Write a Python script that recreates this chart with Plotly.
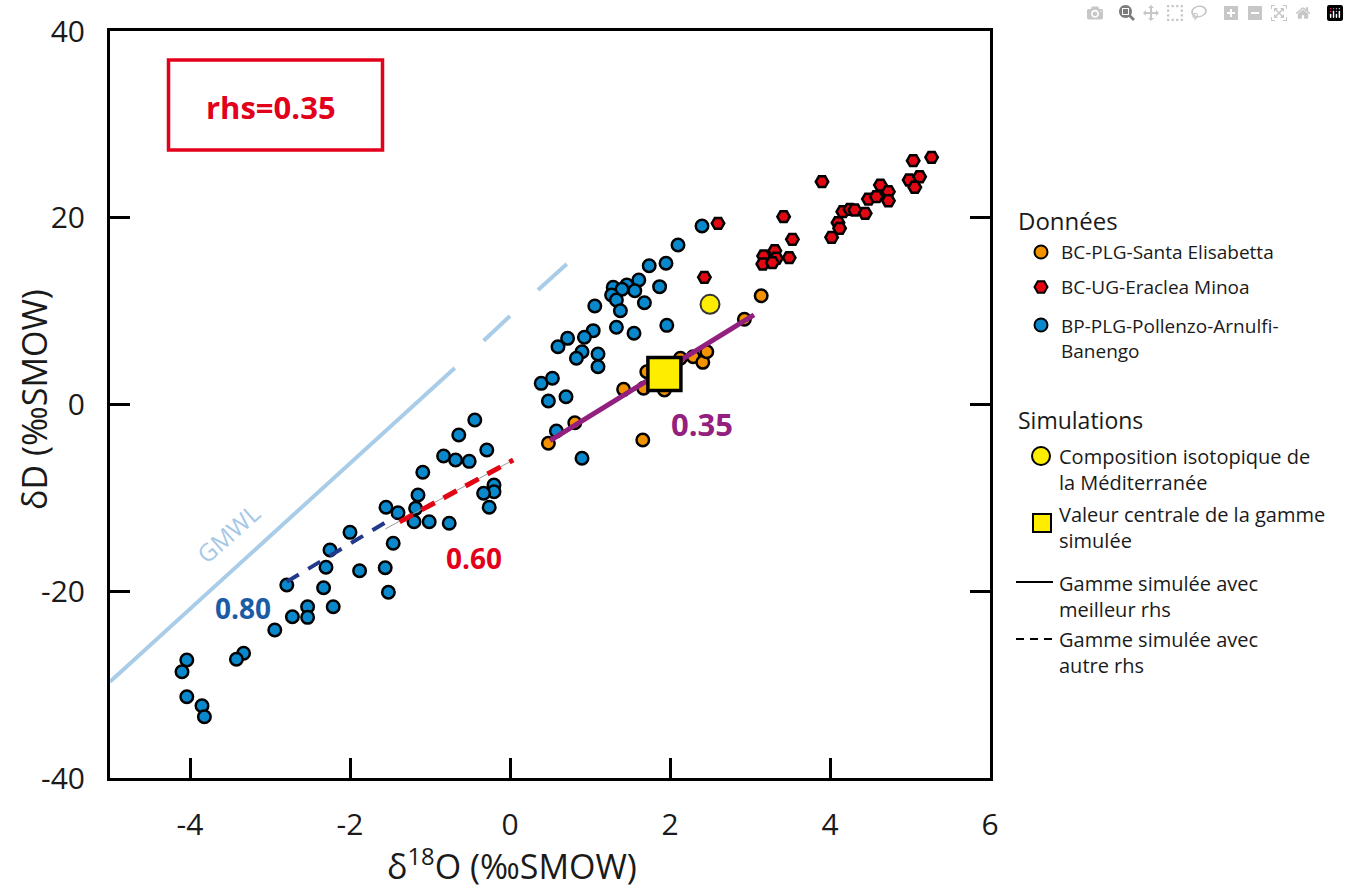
import plotly.graph_objects as go

# ---------------- data ----------------
blue_x = [-0.44, -0.64, -0.29, -0.83, -0.68, -0.51, -1.09, -0.20, -0.20, -0.33, -1.15, -0.26, -1.55, -1.18,
          -1.40, -1.20, -1.01, -0.76, -2.00, -1.46, -2.25, -2.30, -1.88, -1.56, -2.79, -2.33, -1.52, -2.53,
          -2.21, -2.72, -2.53, -2.94, -3.33, -3.42, -4.04, -4.10, -4.04, -3.85, -3.82,
          2.40, 2.10, 1.74, 1.95, 1.61, 1.46, 1.29, 1.40, 1.27, 1.56, 1.87, 1.33, 1.68, 1.06, 1.38, 1.33,
          1.96, 1.55, 1.04, 0.93, 0.72, 0.60, 0.90, 0.83, 1.10, 1.10, 0.39, 0.53, 0.48, 0.70, 0.58, 0.90]
blue_y = [-1.64, -3.25, -4.86, -5.50, -5.93, -6.07, -7.24, -8.60, -9.32, -9.49, -9.67, -10.99, -10.99, -11.10,
          -11.57, -12.53, -12.53, -12.70, -13.67, -14.84, -15.56, -17.41, -17.78, -17.46, -19.31, -19.60, -20.09,
          -21.63, -21.63, -22.70, -22.77, -24.13, -26.62, -27.26, -27.34, -28.59, -31.27, -32.23, -33.41,
          19.12, 17.09, 14.87, 15.13, 13.34, 12.81, 12.56, 12.35, 11.74, 12.20, 12.63, 11.20, 10.91, 10.56,
          10.06, 8.28, 8.49, 7.64, 7.92, 7.21, 7.10, 6.20, 5.67, 4.96, 5.42, 4.06, 2.28, 2.82, 0.39, 0.85,
          -2.82, -5.74]

orange_x = [0.48, 0.81, 1.66, 1.42, 1.67, 1.71, 1.93, 2.13, 2.29, 2.41, 2.46, 2.93, 3.14]
orange_y = [-4.14, -1.93, -3.79, 1.64, 1.75, 3.53, 1.57, 4.96, 5.13, 4.53, 5.67, 9.14, 11.66]

red_x = [2.60, 2.43, 3.42, 3.53, 3.31, 3.17, 3.33, 3.16, 3.28, 3.49, 3.90, 4.16, 4.25, 4.31, 4.44, 4.10,
         4.12, 4.02, 4.48, 4.58, 4.63, 4.73, 4.73, 5.04, 5.27, 4.99, 5.12, 5.06]
red_y = [19.41, 13.63, 20.12, 17.70, 16.48, 15.91, 15.67, 15.06, 15.20, 15.73, 23.87, 20.66, 20.91, 20.84,
         20.48, 19.48, 18.88, 17.91, 22.01, 22.26, 23.51, 22.80, 21.83, 26.12, 26.48, 24.05, 24.40, 23.27]

med_x = [2.50]          # Composition isotopique de la Méditerranée
med_y = [10.74]
center_x = [1.93]       # Valeur centrale de la gamme simulée
center_y = [3.28]

rhs035_x = [0.50, 3.05]
rhs035_y = [-3.86, 9.60]
rhs060_x = [-1.38, 0.04]
rhs060_y = [-12.55, -5.93]
rhs060_guide_x = [-1.56, 0.04]
rhs060_guide_y = [-13.31, -5.93]
rhs080_x = [-2.79, -1.44]
rhs080_y = [-18.96, -12.00]

gmwl_x = [-5.0, -0.69, None, -0.33, 0.00, None, 0.35, 0.71]
gmwl_y = [-29.66, 3.92, None, 6.84, 9.49, None, 12.27, 15.06]

x_tickvals = [-4, -2, 0, 2, 4, 6]
x_ticktext = ["-4", "-2", "0", "2", "4", "6"]
y_tickvals = [-40, -20, 0, 20, 40]
y_ticktext = ["-40", "-20", "0", "20", "40"]

# ---------------- styling ----------------
W, H = 1349, 888
FONT = "Open Sans, Noto Sans, sans-serif"
C_BLUE = "#0A88CC"
C_ORANGE = "#F39200"
C_RED = "#E30613"
C_YELLOW = "#FFED00"
C_PURPLE = "#93207F"
C_NAVY = "#223A8C"
C_LBL_BLUE = "#1B5CA6"
C_GMWL = "#A9CDE8"
C_TXT_RED = "#E2001A"

def fx(px):
    return px / W

def fy(py):
    return 1 - py / H

fig = go.Figure()

mk = dict(line=dict(color="black", width=2.5), size=12.5)

fig.add_trace(go.Scatter(x=gmwl_x, y=gmwl_y, mode="lines", line=dict(color=C_GMWL, width=4),
                         name="GMWL", showlegend=False, hoverinfo="skip"))
fig.add_trace(go.Scatter(x=blue_x, y=blue_y, mode="markers", name="BP-PLG-Pollenzo-Arnulfi-Banengo",
                         marker=dict(color=C_BLUE, symbol="circle", **mk), showlegend=False))
fig.add_trace(go.Scatter(x=orange_x, y=orange_y, mode="markers", name="BC-PLG-Santa Elisabetta",
                         marker=dict(color=C_ORANGE, symbol="circle", **mk), showlegend=False))
fig.add_trace(go.Scatter(x=red_x, y=red_y, mode="markers", name="BC-UG-Eraclea Minoa",
                         marker=dict(color=C_RED, symbol="hexagon2", **mk), showlegend=False))
fig.add_trace(go.Scatter(x=rhs060_guide_x, y=rhs060_guide_y, mode="lines",
                         line=dict(color="#9A9A9A", width=1), showlegend=False, hoverinfo="skip"))
fig.add_trace(go.Scatter(x=rhs060_x, y=rhs060_y, mode="lines", name="rhs 0.60",
                         line=dict(color=C_RED, width=5, dash="15px,10px"), showlegend=False))
fig.add_trace(go.Scatter(x=rhs080_x, y=rhs080_y, mode="lines", name="rhs 0.80",
                         line=dict(color=C_NAVY, width=4, dash="14px,11px"), showlegend=False))
fig.add_trace(go.Scatter(x=rhs035_x, y=rhs035_y, mode="lines", name="rhs 0.35",
                         line=dict(color=C_PURPLE, width=5), showlegend=False))
fig.add_trace(go.Scatter(x=med_x, y=med_y, mode="markers", name="Composition isotopique de la Méditerranée",
                         marker=dict(color=C_YELLOW, symbol="circle", size=19,
                                     line=dict(color="#333333", width=2)), showlegend=False))
fig.add_trace(go.Scatter(x=center_x, y=center_y, mode="markers", name="Valeur centrale de la gamme simulée",
                         marker=dict(color=C_YELLOW, symbol="square", size=33,
                                     line=dict(color="black", width=3.5)), showlegend=False))

# ---------------- manual legend (helper axis in pixel units) ----------------
leg_sym = [
    (1041, 252, C_ORANGE, "circle", 13, 2),
    (1041, 287, C_RED, "hexagon2", 13, 2),
    (1041, 325, C_BLUE, "circle", 13, 2),
    (1041, 456, C_YELLOW, "circle", 18, 2),
    (1042, 523, C_YELLOW, "square", 18, 2),
]
for (lx, ly, col, sym, sz, lw) in leg_sym:
    fig.add_trace(go.Scatter(x=[lx], y=[ly], xaxis="x2", yaxis="y2", mode="markers",
                             marker=dict(color=col, symbol=sym, size=sz, line=dict(color="black", width=lw)),
                             showlegend=False, hoverinfo="skip"))
fig.add_trace(go.Scatter(x=[1016, 1053], y=[582, 582], xaxis="x2", yaxis="y2", mode="lines",
                         line=dict(color="black", width=2), showlegend=False, hoverinfo="skip"))
fig.add_trace(go.Scatter(x=[1016, 1053], y=[639, 639], xaxis="x2", yaxis="y2", mode="lines",
                         line=dict(color="black", width=2, dash="8px,6px"), showlegend=False, hoverinfo="skip"))

ann = []
leg_txt = [
    (1016, 220, "Données", 24),
    (1059, 252, "BC-PLG-Santa Elisabetta", 19),
    (1059, 287, "BC-UG-Eraclea Minoa", 19),
    (1059, 338.5, "BP-PLG-Pollenzo-Arnulfi-<br>Banengo", 19),
    (1016, 420, "Simulations", 23),
    (1057, 469, "Composition isotopique de<br>la Méditerranée", 20),
    (1057, 527.5, "Valeur centrale de la gamme<br>simulée", 20),
    (1057, 596, "Gamme simulée avec<br>meilleur rhs", 20),
    (1057, 652, "Gamme simulée avec<br>autre rhs", 20),
]
for (lx, ly, t, fs) in leg_txt:
    ann.append(dict(x=fx(lx), y=fy(ly), xref="paper", yref="paper", text=t, showarrow=False,
                    xanchor="left", yanchor="middle", align="left",
                    font=dict(family=FONT, size=fs, color="#1a1a1a")))

# axis titles
ann.append(dict(x=fx(512), y=fy(864), xref="paper", yref="paper", text="δ<sup>18</sup>O (‰SMOW)",
                showarrow=False, xanchor="center", yanchor="middle",
                font=dict(family=FONT, size=34, color="#1a1a1a")))
ann.append(dict(x=fx(34), y=fy(400), xref="paper", yref="paper", text="δD (‰SMOW)", textangle=-90,
                showarrow=False, xanchor="center", yanchor="middle",
                font=dict(family=FONT, size=34, color="#1a1a1a")))

# rhs box text
ann.append(dict(x=fx(271), y=fy(107), xref="paper", yref="paper", text="<b>rhs=0.35</b>", showarrow=False,
                xanchor="center", yanchor="middle", font=dict(family=FONT, size=31, color=C_TXT_RED)))

# in-plot labels
ann.append(dict(x=-3.34, y=-21.77, xref="x", yref="y", text="<b>0.80</b>", showarrow=False,
                font=dict(family=FONT, size=28, color=C_LBL_BLUE)))
ann.append(dict(x=-0.45, y=-16.42, xref="x", yref="y", text="<b>0.60</b>", showarrow=False,
                font=dict(family=FONT, size=28, color=C_TXT_RED)))
ann.append(dict(x=2.40, y=-2.07, xref="x", yref="y", text="<b>0.35</b>", showarrow=False,
                font=dict(family=FONT, size=31, color=C_PURPLE)))
ann.append(dict(x=-3.53, y=-13.74, xref="x", yref="y", text="GMWL", showarrow=False, textangle=-41.5,
                font=dict(family=FONT, size=24, color="#A6C8E6")))

shapes = [dict(type="rect", xref="paper", yref="paper", x0=fx(168.5), x1=fx(382.5), y0=fy(150), y1=fy(60),
               line=dict(color=C_TXT_RED, width=3.5), fillcolor="rgba(0,0,0,0)")]

axis_common = dict(showgrid=False, zeroline=False, showline=True, linewidth=3, linecolor="black",
                   ticks="inside", ticklen=20, tickwidth=3, tickcolor="black",
                   tickfont=dict(family=FONT, size=30, color="#1a1a1a"), tickmode="array",
                   automargin=False)

fig.update_layout(
    width=W, height=H, autosize=False,
    margin=dict(l=0, r=0, t=0, b=0, pad=0, autoexpand=False),
    paper_bgcolor="white", plot_bgcolor="rgba(0,0,0,0)",
    showlegend=False,
    xaxis=dict(domain=[fx(110), fx(990)], range=[-5, 6], tickvals=x_tickvals, ticktext=x_ticktext,
               mirror=True, ticklabelstandoff=18, anchor="y", **axis_common),
    yaxis=dict(domain=[fy(778.3), fy(31)], range=[-40, 40], tickvals=y_tickvals, ticktext=y_ticktext,
               mirror="ticks", ticklabelstandoff=16, anchor="x", **axis_common),
    xaxis2=dict(domain=[0, 1], range=[0, W], visible=False, fixedrange=True, anchor="y2"),
    yaxis2=dict(domain=[0, 1], range=[H, 0], visible=False, fixedrange=True, anchor="x2"),
    annotations=ann,
    shapes=shapes,
    font=dict(family=FONT),
)

fig.write_html("out.html",
               post_script="document.body.style.margin='0';document.body.style.overflow='hidden';")
